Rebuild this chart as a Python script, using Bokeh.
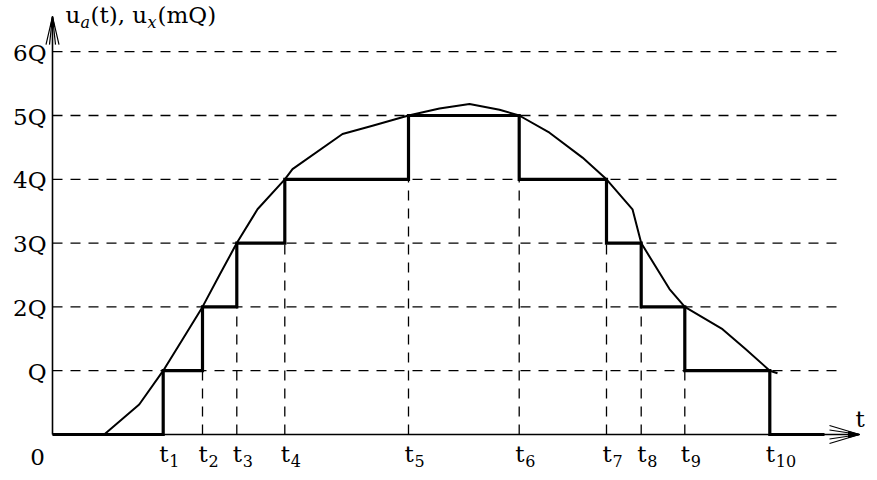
from bokeh.plotting import figure
from bokeh.models import Range1d, ColumnDataSource, LabelSet
from bokeh.core.properties import value
from bokeh.embed import file_html
from bokeh.resources import INLINE

# ---------------- data ----------------
level_values = [1, 2, 3, 4, 5, 6]
level_labels = ["Q", "2Q", "3Q", "4Q", "5Q", "6Q"]

t_values = [11.07, 15.0, 18.43, 23.23, 35.6, 46.67, 55.4, 58.87, 63.23, 71.73]
t_subscripts = ["1", "2", "3", "4", "5", "6", "7", "8", "9", "10"]
level_after = [1, 2, 3, 4, 5, 4, 3, 2, 1, 0]   # quantized value u_x after each t_i

curve_x = [5.17, 8.67, 11.07, 13.0, 15.0, 16.7, 18.43, 20.5, 23.23, 24.0, 29.0, 32.0,
           35.6, 38.7, 41.7, 44.7, 46.67, 49.7, 53.0, 55.4, 58.0, 58.87, 61.7,
           63.23, 67.0, 69.3, 71.73, 72.5]
curve_y = [0.0, 0.47, 1.0, 1.49, 2.0, 2.5, 3.0, 3.53, 4.0, 4.16, 4.71, 4.84,
           5.0, 5.11, 5.18, 5.09, 5.0, 4.73, 4.34, 4.0, 3.53, 3.0, 2.28,
           2.0, 1.65, 1.34, 1.0, 0.96]

title_parts = ["u", "a", "(t), u", "x", "(mQ)"]
axis_t_label = "t"
origin_label = "0"

# ---------------- layout constants ----------------
PX_X = 10.0      # px per t unit
PX_Y = 63.8      # px per Q level
W, H = 869, 472
X0, Y0 = 52, 434  # pixel position of the origin inside the canvas
x_lo, x_hi = -X0 / PX_X, (W - X0) / PX_X
y_lo, y_hi = -(H - Y0) / PX_Y, Y0 / PX_Y
y_axis_top = 6.55
x_axis_end = 80.7
grid_end = 79.0
stair_end = 77.2

FONT = "DejaVu Serif"

p = figure(width=W, height=H, output_backend="svg", toolbar_location=None,
           x_range=Range1d(x_lo, x_hi), y_range=Range1d(y_lo, y_hi),
           min_border=0, min_border_left=0, min_border_right=0,
           min_border_top=0, min_border_bottom=0)
p.axis.visible = False
p.grid.visible = False
p.outline_line_color = None
p.background_fill_color = "white"
p.border_fill_color = "white"

# horizontal dashed grid lines
p.segment(x0=[0] * len(level_values), y0=level_values,
          x1=[grid_end] * len(level_values), y1=level_values,
          line_color="black", line_width=1.3, line_dash="10 8")

# vertical dashed lines up to the lower neighbouring step
vx, vh = [], []
for i, t in enumerate(t_values):
    prev = level_after[i - 1] if i > 0 else 0
    h = min(prev, level_after[i])
    if h > 0:
        vx.append(t)
        vh.append(h)
p.segment(x0=vx, y0=[0] * len(vx), x1=vx, y1=vh,
          line_color="black", line_width=1.3, line_dash="10 8")

# axes
p.line([0, 0], [0, y_axis_top], line_color="black", line_width=1.6)
p.line([0, x_axis_end], [0, 0], line_color="black", line_width=1.6)

# arrow heads (y axis)
ah_len_y = 28 / PX_Y
for w in (0.65, 0.3):
    p.line([-w, 0, w], [y_axis_top - ah_len_y, y_axis_top, y_axis_top - ah_len_y],
           line_color="black", line_width=1.2)
p.patch([-0.2, 0, 0.2], [y_axis_top - 10 / PX_Y, y_axis_top, y_axis_top - 10 / PX_Y],
        fill_color="black", line_color="black")
# arrow heads (x axis)
ah_len_x = 3.0
for w in (9 / PX_Y, 4.5 / PX_Y):
    p.line([x_axis_end - ah_len_x, x_axis_end, x_axis_end - ah_len_x], [w, 0, -w],
           line_color="black", line_width=1.2)
p.patch([x_axis_end - 1.1, x_axis_end, x_axis_end - 1.1], [3 / PX_Y, 0, -3 / PX_Y],
        fill_color="black", line_color="black")

# staircase u_x
sx, sy = [0], [0]
for t, lv in zip(t_values, level_after):
    sx += [t, t]
    sy += [sy[-1], lv]
sx.append(stair_end)
sy.append(0)
p.line(sx, sy, line_color="black", line_width=3.2, line_join="miter")

# analog curve u_a(t)
p.line(curve_x, curve_y, line_color="black", line_width=2.0, line_join="round")


def labels(xs, ys, texts, size, dx, dy, align="left", style="normal"):
    src = ColumnDataSource(dict(x=list(xs), y=list(ys), text=list(texts)))
    ls = LabelSet(x="x", y="y", text="text", source=src,
                  x_offset=dx, y_offset=dy,
                  text_font=value(FONT), text_font_size=value(size),
                  text_font_style=value(style),
                  text_color="black", text_align=align, text_baseline="alphabetic")
    p.add_layout(ls)


# y tick labels
labels([0] * len(level_values), level_values, level_labels, "23px", -6, -9, align="right")
# origin label
labels([0], [0], [origin_label], "23px", -15, -30, align="center")
# t labels with subscripts
labels(t_values, [0] * len(t_values), ["t"] * len(t_values), "23px", -4, -27)
labels(t_values, [0] * len(t_values), t_subscripts, "16px", 6, -32)
# axis label t
labels([x_axis_end], [0], [axis_t_label], "23px", -4, 8)

# y-axis title u_a(t), u_x(mQ)
title_offsets = [13, 28, 38, 95, 105]
title_sizes = ["23px", "16px", "23px", "16px", "23px"]
title_styles = ["normal", "italic", "normal", "italic", "normal"]
title_dy = [-6, -11, -6, -11, -6]
for txt, dx, fs, st, dy in zip(title_parts, title_offsets, title_sizes, title_styles, title_dy):
    labels([0], [y_axis_top], [txt], fs, dx, dy, style=st)

open("out.html", "w").write(file_html(p, INLINE))
